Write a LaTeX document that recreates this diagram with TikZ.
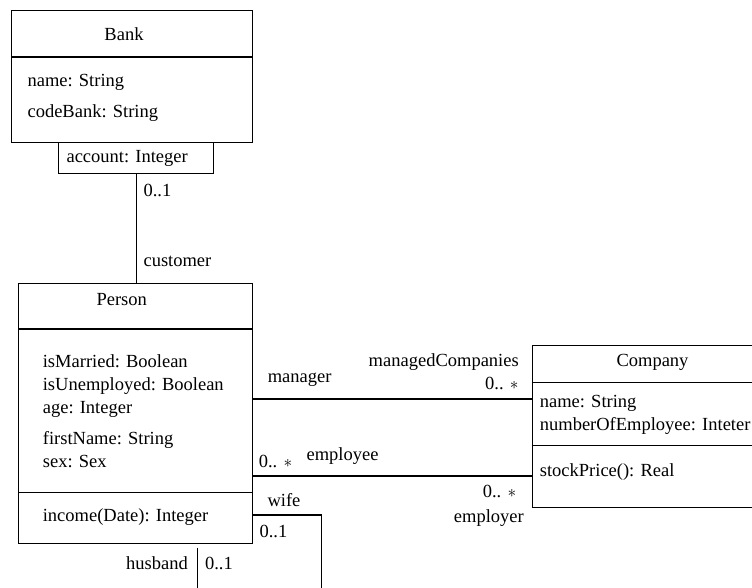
\documentclass[tikz,border=0pt]{standalone}
\usepackage{fontspec}
\setmainfont{Liberation Serif}
\begin{document}
\begin{tikzpicture}[x=1pt, y=-1pt, line width=1.1pt,
  classbox/.style={draw, rectangle, anchor=north west, inner sep=0pt},
  lbl/.style={inner sep=0pt, font=\fontsize{18.5}{22}\selectfont,
              text height=13pt, text depth=3.7pt},
  lw/.style={lbl, anchor=west},
  le/.style={lbl, anchor=east},
  lc/.style={lbl, anchor=center}]
\useasboundingbox (0,0) rectangle (752,587);
\clip (0,0) rectangle (752,587);

% ---------- Bank ----------
\node[classbox, minimum width=241pt, minimum height=132pt] (bank) at (11,10) {};
\draw ([yshift=-47pt]bank.north west) -- ([yshift=-47pt]bank.north east);
\node[lc] (bankT) at (124,36) {Bank};
\node[lw] (bankA1) at (27,82) {name: String};
\node[lw] (bankA2) at (27,113) {codeBank: String};

% qualifier
\node[classbox, minimum width=155pt, minimum height=31pt] (qual) at (58,142) {};
\node[lw] (qualT) at (66,158) {account: Integer};

% ---------- Person ----------
\node[classbox, minimum width=234pt, minimum height=260.5pt] (person) at (18,282.5) {};
\draw ([yshift=-46.5pt]person.north west) -- ([yshift=-46.5pt]person.north east);
\draw ([yshift=-209.8pt]person.north west) -- ([yshift=-209.8pt]person.north east);
\node[lc] (personT) at (121.7,300.7) {Person};
\node[lw] (pA1) at (42.3,363.3) {isMarried: Boolean};
\node[lw] (pA2) at (42.3,385.7) {isUnemployed: Boolean};
\node[lw] (pA3) at (42.3,409.3) {age: Integer};
\node[lw] (pA4) at (42.3,440) {firstName: String};
\node[lw] (pA5) at (42.3,463.3) {sex: Sex};
\node[lw] (pM1) at (42.3,516.7) {income(Date): Integer};

% ---------- Company ----------
\node[classbox, minimum width=241pt, minimum height=162.6pt] (company) at (531.7,344.7) {};
\draw ([yshift=-38pt]company.north west) -- ([yshift=-38pt]company.north east);
\draw ([yshift=-101pt]company.north west) -- ([yshift=-101pt]company.north east);
\node[lc] (companyT) at (652.5,362.3) {Company};
\node[lw] (cA1) at (539.3,403) {name: String};
\node[lw] (cA2) at (539.3,425.5) {numberOfEmployee: Inteter};
\node[lw] (cM1) at (539.3,472.3) {stockPrice(): Real};

% ---------- associations ----------
% Bank -- Person
\draw (qual.south) -- (qual.south |- person.north);
\node[lw] (custMult) at (143,191.7) {0..1};
\node[lw] (custRole) at (143,261.7) {customer};

% Person -- Company (manager)
\coordinate (mgrY) at (0,399);
\draw (person.east |- mgrY) -- (company.west |- mgrY);
\node[le] (mcRole) at (519.3,362.3) {managedCompanies};
\node[lw] (mgrRole) at (267.3,378.3) {manager};
\node[le] (mcMult) at (519,385) {0.. $\ast$};

% Person -- Company (employee)
\coordinate (empY) at (0,476);
\draw (person.east |- empY) -- (company.west |- empY);
\node[lw] (empMult) at (258.3,463.3) {0.. $\ast$};
\node[lw] (empRole) at (306,456) {employee};
\node[le] (emprMult) at (516.7,493.3) {0.. $\ast$};
\node[le] (emprRole) at (524.3,517.7) {employer};

% Person -- Person (marriage)
\coordinate (wifeY) at (0,515);
\coordinate (wifeEnd) at (321.7,595);
\draw (person.east |- wifeY) -| (wifeEnd);
\node[lw] (wifeRole) at (267,502) {wife};
\node[lw] (wifeMult) at (259,533) {0..1};

\coordinate (husbandEnd) at (197.5,595);
\path (person.south -| husbandEnd) ++(0,4) coordinate (husbandStart);
\draw (husbandStart) -- (husbandEnd);
\node[le] (husbandRole) at (188.3,565) {husband};
\node[lw] (husbandMult) at (204.5,565) {0..1};
\end{tikzpicture}
\end{document}
